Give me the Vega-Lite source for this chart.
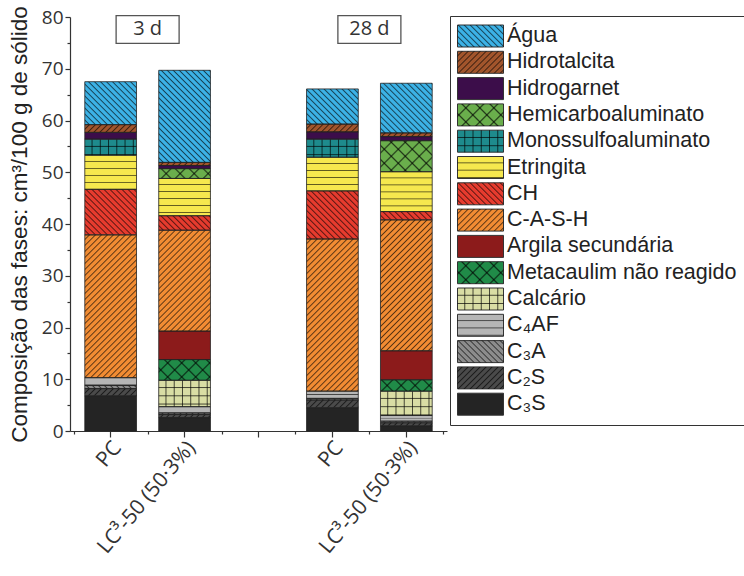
{
  "$schema": "https://vega.github.io/schema/vega-lite/v6.json",
  "width": 377,
  "height": 414,
  "padding": {"left": 8, "top": 5, "right": 5, "bottom": 5},
  "config": {
    "view": {"stroke": null},
    "font": "Liberation Sans",
    "axis": {"domainColor": "#333", "tickColor": "#333", "labelColor": "#333", "titleColor": "#222", "labelFont": "Open Sans", "domainWidth": 1.2, "tickWidth": 1.2, "grid": false},
    "legend": {
      "orient": "none", "legendX": 380, "legendY": -1, "title": null,
      "padding": 7, "rowPadding": 0.3,
      "symbolType": "M-1,-0.88H2.68V0.88H-1Z", "symbolSize": 625, "symbolStrokeWidth": 1, "symbolOpacity": 1,
      "labelFont": "Liberation Sans", "labelFontSize": 21.5, "labelColor": "#222", "labelOffset": 24, "labelLimit": 400
    }
  },
  "params": [
    {"name": "fina", "value": [
      {"offset":0.0153,"color":"#00000000"},{"offset":0.0217,"color":"#000000a0"},{"offset":0.0278,"color":"#00000000"},
      {"offset":0.0431,"color":"#00000000"},{"offset":0.0494,"color":"#000000a0"},{"offset":0.0556,"color":"#00000000"},
      {"offset":0.0708,"color":"#00000000"},{"offset":0.0772,"color":"#000000a0"},{"offset":0.0833,"color":"#00000000"},
      {"offset":0.0986,"color":"#00000000"},{"offset":0.1050,"color":"#000000a0"},{"offset":0.1111,"color":"#00000000"},
      {"offset":0.1264,"color":"#00000000"},{"offset":0.1328,"color":"#000000a0"},{"offset":0.1389,"color":"#00000000"},
      {"offset":0.1542,"color":"#00000000"},{"offset":0.1606,"color":"#000000a0"},{"offset":0.1667,"color":"#00000000"},
      {"offset":0.1819,"color":"#00000000"},{"offset":0.1883,"color":"#000000a0"},{"offset":0.1944,"color":"#00000000"},
      {"offset":0.2097,"color":"#00000000"},{"offset":0.2161,"color":"#000000a0"},{"offset":0.2222,"color":"#00000000"},
      {"offset":0.2375,"color":"#00000000"},{"offset":0.2439,"color":"#000000a0"},{"offset":0.2500,"color":"#00000000"},
      {"offset":0.2653,"color":"#00000000"},{"offset":0.2717,"color":"#000000a0"},{"offset":0.2778,"color":"#00000000"},
      {"offset":0.2931,"color":"#00000000"},{"offset":0.2994,"color":"#000000a0"},{"offset":0.3056,"color":"#00000000"},
      {"offset":0.3208,"color":"#00000000"},{"offset":0.3272,"color":"#000000a0"},{"offset":0.3333,"color":"#00000000"},
      {"offset":0.3486,"color":"#00000000"},{"offset":0.3550,"color":"#000000a0"},{"offset":0.3611,"color":"#00000000"},
      {"offset":0.3764,"color":"#00000000"},{"offset":0.3828,"color":"#000000a0"},{"offset":0.3889,"color":"#00000000"},
      {"offset":0.4042,"color":"#00000000"},{"offset":0.4106,"color":"#000000a0"},{"offset":0.4167,"color":"#00000000"},
      {"offset":0.4319,"color":"#00000000"},{"offset":0.4383,"color":"#000000a0"},{"offset":0.4444,"color":"#00000000"},
      {"offset":0.4597,"color":"#00000000"},{"offset":0.4661,"color":"#000000a0"},{"offset":0.4722,"color":"#00000000"},
      {"offset":0.4875,"color":"#00000000"},{"offset":0.4939,"color":"#000000a0"},{"offset":0.5000,"color":"#00000000"},
      {"offset":0.5153,"color":"#00000000"},{"offset":0.5217,"color":"#000000a0"},{"offset":0.5278,"color":"#00000000"},
      {"offset":0.5431,"color":"#00000000"},{"offset":0.5494,"color":"#000000a0"},{"offset":0.5556,"color":"#00000000"},
      {"offset":0.5708,"color":"#00000000"},{"offset":0.5772,"color":"#000000a0"},{"offset":0.5833,"color":"#00000000"},
      {"offset":0.5986,"color":"#00000000"},{"offset":0.6050,"color":"#000000a0"},{"offset":0.6111,"color":"#00000000"},
      {"offset":0.6264,"color":"#00000000"},{"offset":0.6328,"color":"#000000a0"},{"offset":0.6389,"color":"#00000000"},
      {"offset":0.6542,"color":"#00000000"},{"offset":0.6606,"color":"#000000a0"},{"offset":0.6667,"color":"#00000000"},
      {"offset":0.6819,"color":"#00000000"},{"offset":0.6883,"color":"#000000a0"},{"offset":0.6944,"color":"#00000000"},
      {"offset":0.7097,"color":"#00000000"},{"offset":0.7161,"color":"#000000a0"},{"offset":0.7222,"color":"#00000000"},
      {"offset":0.7375,"color":"#00000000"},{"offset":0.7439,"color":"#000000a0"},{"offset":0.7500,"color":"#00000000"},
      {"offset":0.7653,"color":"#00000000"},{"offset":0.7717,"color":"#000000a0"},{"offset":0.7778,"color":"#00000000"},
      {"offset":0.7931,"color":"#00000000"},{"offset":0.7994,"color":"#000000a0"},{"offset":0.8056,"color":"#00000000"},
      {"offset":0.8208,"color":"#00000000"},{"offset":0.8272,"color":"#000000a0"},{"offset":0.8333,"color":"#00000000"},
      {"offset":0.8486,"color":"#00000000"},{"offset":0.8550,"color":"#000000a0"},{"offset":0.8611,"color":"#00000000"},
      {"offset":0.8764,"color":"#00000000"},{"offset":0.8828,"color":"#000000a0"},{"offset":0.8889,"color":"#00000000"},
      {"offset":0.9042,"color":"#00000000"},{"offset":0.9106,"color":"#000000a0"},{"offset":0.9167,"color":"#00000000"},
      {"offset":0.9319,"color":"#00000000"},{"offset":0.9383,"color":"#000000a0"},{"offset":0.9444,"color":"#00000000"},
      {"offset":0.9597,"color":"#00000000"},{"offset":0.9661,"color":"#000000a0"},{"offset":0.9722,"color":"#00000000"},
      {"offset":0.9875,"color":"#00000000"},{"offset":0.9939,"color":"#000000a0"},{"offset":1,"color":"#00000000"}
    ]},
    {"name": "rede", "value": [
      {"offset":0.095,"color":"#00000000"},{"offset":0.11,"color":"#000000b0"},{"offset":0.125,"color":"#00000000"},
      {"offset":0.22,"color":"#00000000"},{"offset":0.235,"color":"#000000b0"},{"offset":0.25,"color":"#00000000"},
      {"offset":0.345,"color":"#00000000"},{"offset":0.36,"color":"#000000b0"},{"offset":0.375,"color":"#00000000"},
      {"offset":0.47,"color":"#00000000"},{"offset":0.485,"color":"#000000b0"},{"offset":0.5,"color":"#00000000"},
      {"offset":0.595,"color":"#00000000"},{"offset":0.61,"color":"#000000b0"},{"offset":0.625,"color":"#00000000"},
      {"offset":0.72,"color":"#00000000"},{"offset":0.735,"color":"#000000b0"},{"offset":0.75,"color":"#00000000"},
      {"offset":0.845,"color":"#00000000"},{"offset":0.86,"color":"#000000b0"},{"offset":0.875,"color":"#00000000"},
      {"offset":0.97,"color":"#00000000"},{"offset":0.985,"color":"#000000b0"},{"offset":1,"color":"#00000000"}
    ]}
  ],
  "datasets": {
    "fases": [
      {"fase": "C₃S", "ordem": 1},
      {"fase": "C₂S", "ordem": 2},
      {"fase": "C₃A", "ordem": 3},
      {"fase": "C₄AF", "ordem": 4},
      {"fase": "Calcário", "ordem": 5},
      {"fase": "Metacaulim não reagido", "ordem": 6},
      {"fase": "Argila secundária", "ordem": 7},
      {"fase": "C-A-S-H", "ordem": 8},
      {"fase": "CH", "ordem": 9},
      {"fase": "Etringita", "ordem": 10},
      {"fase": "Monossulfoaluminato", "ordem": 11},
      {"fase": "Hemicarboaluminato", "ordem": 12},
      {"fase": "Hidrogarnet", "ordem": 13},
      {"fase": "Hidrotalcita", "ordem": 14},
      {"fase": "Água", "ordem": 15}
    ],
    "composicao": [
      {"barra": "PC — 3 d", "fase": "C₃S", "valor": 6.8},
      {"barra": "PC — 3 d", "fase": "C₂S", "valor": 1.4},
      {"barra": "PC — 3 d", "fase": "C₃A", "valor": 0.6},
      {"barra": "PC — 3 d", "fase": "C₄AF", "valor": 1.5},
      {"barra": "PC — 3 d", "fase": "C-A-S-H", "valor": 27.6},
      {"barra": "PC — 3 d", "fase": "CH", "valor": 8.8},
      {"barra": "PC — 3 d", "fase": "Etringita", "valor": 6.6},
      {"barra": "PC — 3 d", "fase": "Monossulfoaluminato", "valor": 3.1},
      {"barra": "PC — 3 d", "fase": "Hidrogarnet", "valor": 1.3},
      {"barra": "PC — 3 d", "fase": "Hidrotalcita", "valor": 1.5},
      {"barra": "PC — 3 d", "fase": "Água", "valor": 8.3},

      {"barra": "LC³-50 (50·3%) — 3 d", "fase": "C₃S", "valor": 2.6},
      {"barra": "LC³-50 (50·3%) — 3 d", "fase": "C₂S", "valor": 0.6},
      {"barra": "LC³-50 (50·3%) — 3 d", "fase": "C₃A", "valor": 0.3},
      {"barra": "LC³-50 (50·3%) — 3 d", "fase": "C₄AF", "valor": 1.2},
      {"barra": "LC³-50 (50·3%) — 3 d", "fase": "Calcário", "valor": 5.1},
      {"barra": "LC³-50 (50·3%) — 3 d", "fase": "Metacaulim não reagido", "valor": 4.0},
      {"barra": "LC³-50 (50·3%) — 3 d", "fase": "Argila secundária", "valor": 5.5},
      {"barra": "LC³-50 (50·3%) — 3 d", "fase": "C-A-S-H", "valor": 19.5},
      {"barra": "LC³-50 (50·3%) — 3 d", "fase": "CH", "valor": 2.8},
      {"barra": "LC³-50 (50·3%) — 3 d", "fase": "Etringita", "valor": 7.2},
      {"barra": "LC³-50 (50·3%) — 3 d", "fase": "Hemicarboaluminato", "valor": 1.9},
      {"barra": "LC³-50 (50·3%) — 3 d", "fase": "Hidrogarnet", "valor": 0.6},
      {"barra": "LC³-50 (50·3%) — 3 d", "fase": "Hidrotalcita", "valor": 0.6},
      {"barra": "LC³-50 (50·3%) — 3 d", "fase": "Água", "valor": 17.8},

      {"barra": "PC — 28 d", "fase": "C₃S", "valor": 4.5},
      {"barra": "PC — 28 d", "fase": "C₂S", "valor": 1.5},
      {"barra": "PC — 28 d", "fase": "C₃A", "valor": 0.3},
      {"barra": "PC — 28 d", "fase": "C₄AF", "valor": 1.4},
      {"barra": "PC — 28 d", "fase": "C-A-S-H", "valor": 29.4},
      {"barra": "PC — 28 d", "fase": "CH", "valor": 9.3},
      {"barra": "PC — 28 d", "fase": "Etringita", "valor": 6.5},
      {"barra": "PC — 28 d", "fase": "Monossulfoaluminato", "valor": 3.5},
      {"barra": "PC — 28 d", "fase": "Hidrogarnet", "valor": 1.4},
      {"barra": "PC — 28 d", "fase": "Hidrotalcita", "valor": 1.5},
      {"barra": "PC — 28 d", "fase": "Água", "valor": 6.8},

      {"barra": "LC³-50 (50·3%) — 28 d", "fase": "C₃S", "valor": 1.0},
      {"barra": "LC³-50 (50·3%) — 28 d", "fase": "C₂S", "valor": 0.6},
      {"barra": "LC³-50 (50·3%) — 28 d", "fase": "C₃A", "valor": 0.3},
      {"barra": "LC³-50 (50·3%) — 28 d", "fase": "C₄AF", "valor": 1.1},
      {"barra": "LC³-50 (50·3%) — 28 d", "fase": "Calcário", "valor": 4.7},
      {"barra": "LC³-50 (50·3%) — 28 d", "fase": "Metacaulim não reagido", "valor": 2.2},
      {"barra": "LC³-50 (50·3%) — 28 d", "fase": "Argila secundária", "valor": 5.6},
      {"barra": "LC³-50 (50·3%) — 28 d", "fase": "C-A-S-H", "valor": 25.3},
      {"barra": "LC³-50 (50·3%) — 28 d", "fase": "CH", "valor": 1.6},
      {"barra": "LC³-50 (50·3%) — 28 d", "fase": "Etringita", "valor": 7.7},
      {"barra": "LC³-50 (50·3%) — 28 d", "fase": "Hemicarboaluminato", "valor": 6.0},
      {"barra": "LC³-50 (50·3%) — 28 d", "fase": "Hidrogarnet", "valor": 0.8},
      {"barra": "LC³-50 (50·3%) — 28 d", "fase": "Hidrotalcita", "valor": 0.7},
      {"barra": "LC³-50 (50·3%) — 28 d", "fase": "Água", "valor": 9.6}
    ],
    "idades": [
      {"barra": "PC — 3 d", "rotulo": "3 d"},
      {"barra": "PC — 28 d", "rotulo": "28 d"}
    ]
  },
  "layer": [
    {
      "data": {"name": "composicao"},
      "transform": [{"lookup": "fase", "from": {"data": {"name": "fases"}, "key": "fase", "fields": ["ordem"]}}],
      "mark": {"type": "bar", "width": {"band": 0.7}, "strokeWidth": 0},
      "encoding": {
        "x": {
          "field": "barra", "type": "nominal",
          "scale": {"domain": ["PC — 3 d", "LC³-50 (50·3%) — 3 d", " ", "PC — 28 d", "LC³-50 (50·3%) — 28 d"], "paddingInner": 0, "paddingOuter": 0.05},
          "axis": {"orient": "bottom", "title": null, "labelExpr": "split(datum.value, ' — ')[0]", "labelAngle": -50, "labelFontSize": 21, "labelPadding": 7, "labelOffset": 7, "tickSize": 6}
        },
        "y": {
          "field": "valor", "type": "quantitative", "stack": "zero",
          "scale": {"domain": [0, 80], "nice": false},
          "axis": {"orient": "left", "values": [0, 10, 20, 30, 40, 50, 60, 70, 80], "title": "Composição das fases: cm³/100 g de sólido", "titleFont": "Liberation Sans", "titleFontSize": 22.5, "titleFontWeight": "normal", "titlePadding": 10, "labelFontSize": 19, "labelPadding": 2, "tickSize": 5}
        },
        "color": {
          "field": "fase", "type": "nominal",
          "scale": {
            "domain": ["Água", "Hidrotalcita", "Hidrogarnet", "Hemicarboaluminato", "Monossulfoaluminato", "Etringita", "CH", "C-A-S-H", "Argila secundária", "Metacaulim não reagido", "Calcário", "C₄AF", "C₃A", "C₂S", "C₃S"],
            "range": ["#3cb2e6", "#a2552c", "#3c0d4a", "#6aae4c", "#1e8b8d", "#f6e84e", "#e63b2e", "#f28c33", "#8c1b1b", "#208b48", "#d9dda4", "#b6b6b6", "#8c8c8c", "#4a4a4a", "#242424"]
          },
          "legend": {"strokeColor": "#333", "symbolStrokeColor": "#333"}
        },
        "order": {"field": "ordem", "type": "quantitative"}
      }
    },
    {
      "data": {"name": "composicao"},
      "transform": [{"lookup": "fase", "from": {"data": {"name": "fases"}, "key": "fase", "fields": ["ordem"]}}],
      "mark": {
        "type": "bar", "width": {"band": 0.7}, "strokeWidth": 0,
        "fill": {"expr": "indexof(['Hidrotalcita','C-A-S-H','C₂S'],datum.fase)>=0 ? {gradient:'linear',x1:0,y1:0,x2:bandwidth('x')*0.7*216/(pow(bandwidth('x')*0.7,2)+pow(scale('y',0)-scale('y',datum.valor),2)),y2:(scale('y',0)-scale('y',datum.valor))*216/(pow(bandwidth('x')*0.7,2)+pow(scale('y',0)-scale('y',datum.valor),2)),stops:fina} : indexof(['Água','CH','C₃A'],datum.fase)>=0 ? {gradient:'linear',x1:0,y1:1,x2:bandwidth('x')*0.7*216/(pow(bandwidth('x')*0.7,2)+pow(scale('y',0)-scale('y',datum.valor),2)),y2:1-(scale('y',0)-scale('y',datum.valor))*216/(pow(bandwidth('x')*0.7,2)+pow(scale('y',0)-scale('y',datum.valor),2)),stops:fina} : datum.fase=='Etringita' ? {gradient:'linear',x1:0,y1:0,x2:0,y2:56/(scale('y',0)-scale('y',datum.valor)),stops:rede} : datum.fase=='C₄AF' ? {gradient:'linear',x1:0,y1:0,x2:0,y2:30/(scale('y',0)-scale('y',datum.valor)),stops:rede} : indexof(['Monossulfoaluminato','Calcário'],datum.fase)>=0 ? {gradient:'linear',x1:0,y1:0,x2:0,y2:66/(scale('y',0)-scale('y',datum.valor)),stops:rede} : indexof(['Hemicarboaluminato','Metacaulim não reagido'],datum.fase)>=0 ? {gradient:'linear',x1:0,y1:0,x2:bandwidth('x')*0.7*112/(pow(bandwidth('x')*0.7,2)+pow(scale('y',0)-scale('y',datum.valor),2)),y2:(scale('y',0)-scale('y',datum.valor))*112/(pow(bandwidth('x')*0.7,2)+pow(scale('y',0)-scale('y',datum.valor),2)),stops:rede} : 'transparent'"}
      },
      "encoding": {
        "x": {"field": "barra", "type": "nominal", "axis": {"orient": "bottom", "title": null, "labels": false, "domain": false, "tickBand": "extent", "tickSize": 3}},
        "y": {"field": "valor", "type": "quantitative", "stack": "zero", "axis": {"orient": "left", "values": [5, 15, 25, 35, 45, 55, 65, 75], "title": null, "labels": false, "domain": false, "tickSize": 3}},
        "detail": {"field": "fase"},
        "order": {"field": "ordem", "type": "quantitative"},
        "opacity": {
          "field": "fase", "type": "nominal",
          "scale": {"domain": ["Água", "Hidrotalcita", "Hidrogarnet", "Hemicarboaluminato", "Monossulfoaluminato", "Etringita", "CH", "C-A-S-H", "Argila secundária", "Metacaulim não reagido", "Calcário", "C₄AF", "C₃A", "C₂S", "C₃S", " "], "range": [1, 1]},
          "legend": {
            "labelExpr": "''", "labelOpacity": 0, "symbolStrokeColor": "transparent",
            "encoding": {"symbols": {"opacity": {"value": 1}, "fill": {"value": {"expr": "indexof(['Hidrotalcita','C-A-S-H','C₂S'],datum.value)>=0 ? {gradient:'linear',x1:0,y1:0,x2:3.8215,y2:1.8277,stops:fina} : indexof(['Água','CH','C₃A'],datum.value)>=0 ? {gradient:'linear',x1:0,y1:1,x2:3.8215,y2:-0.8277,stops:fina} : indexof(['Etringita','C₄AF'],datum.value)>=0 ? {gradient:'linear',x1:0,y1:0,x2:0,y2:2.636,stops:rede} : indexof(['Monossulfoaluminato','Calcário'],datum.value)>=0 ? {gradient:'linear',x1:0,y1:0,x2:0,y2:3,stops:rede} : indexof(['Hemicarboaluminato','Metacaulim não reagido'],datum.value)>=0 ? {gradient:'linear',x1:0,y1:0,x2:1.9815,y2:0.9477,stops:rede} : 'transparent'"}}}}
          }
        }
      }
    },
    {
      "data": {"name": "composicao"},
      "transform": [{"lookup": "fase", "from": {"data": {"name": "fases"}, "key": "fase", "fields": ["ordem"]}}],
      "mark": {
        "type": "bar", "width": {"band": 0.7}, "stroke": "#222", "strokeWidth": 0.8,
        "fill": {"expr": "indexof(['Monossulfoaluminato','Calcário'],datum.fase)>=0 ? {gradient:'linear',x1:0,y1:0,x2:66/(bandwidth('x')*0.7),y2:0,stops:rede} : indexof(['Hemicarboaluminato','Metacaulim não reagido'],datum.fase)>=0 ? {gradient:'linear',x1:0,y1:1,x2:bandwidth('x')*0.7*112/(pow(bandwidth('x')*0.7,2)+pow(scale('y',0)-scale('y',datum.valor),2)),y2:1-(scale('y',0)-scale('y',datum.valor))*112/(pow(bandwidth('x')*0.7,2)+pow(scale('y',0)-scale('y',datum.valor),2)),stops:rede} : 'transparent'"}
      },
      "encoding": {
        "x": {"field": "barra", "type": "nominal", "axis": null},
        "y": {"field": "valor", "type": "quantitative", "stack": "zero", "axis": null},
        "detail": {"field": "fase"},
        "order": {"field": "ordem", "type": "quantitative"},
        "opacity": {
          "field": "fase", "type": "nominal",
          "scale": {"domain": ["Água", "Hidrotalcita", "Hidrogarnet", "Hemicarboaluminato", "Monossulfoaluminato", "Etringita", "CH", "C-A-S-H", "Argila secundária", "Metacaulim não reagido", "Calcário", "C₄AF", "C₃A", "C₂S", "C₃S", " ", "  "], "range": [1, 1]},
          "legend": {
            "labelExpr": "''", "labelOpacity": 0, "symbolStrokeColor": "transparent",
            "encoding": {"symbols": {"opacity": {"value": 1}, "fill": {"value": {"expr": "indexof(['Monossulfoaluminato','Calcário'],datum.value)>=0 ? {gradient:'linear',x1:0,y1:0,x2:1.435,y2:0,stops:rede} : indexof(['Hemicarboaluminato','Metacaulim não reagido'],datum.value)>=0 ? {gradient:'linear',x1:0,y1:1,x2:1.9815,y2:0.0523,stops:rede} : 'transparent'"}}}}
          }
        }
      }
    },
    {
      "data": {"name": "idades"},
      "mark": {"type": "point", "shape": "M-1,-0.44H1V0.44H-1Z", "size": 3969, "filled": true, "fill": "white", "stroke": "#555", "strokeWidth": 1.3, "opacity": 1},
      "encoding": {
        "x": {"field": "barra", "type": "nominal", "bandPosition": 1, "axis": null},
        "y": {"datum": 77.6, "type": "quantitative", "axis": null}
      }
    },
    {
      "data": {"name": "idades"},
      "mark": {"type": "text", "font": "Open Sans", "fontSize": 20, "color": "#333"},
      "encoding": {
        "x": {"field": "barra", "type": "nominal", "bandPosition": 1, "axis": null},
        "y": {"datum": 77.6, "type": "quantitative", "axis": null},
        "text": {"field": "rotulo"}
      }
    }
  ],
  "resolve": {
    "axis": {"x": "independent", "y": "independent"},
    "scale": {"opacity": "independent"},
    "legend": {"opacity": "independent"}
  }
}
